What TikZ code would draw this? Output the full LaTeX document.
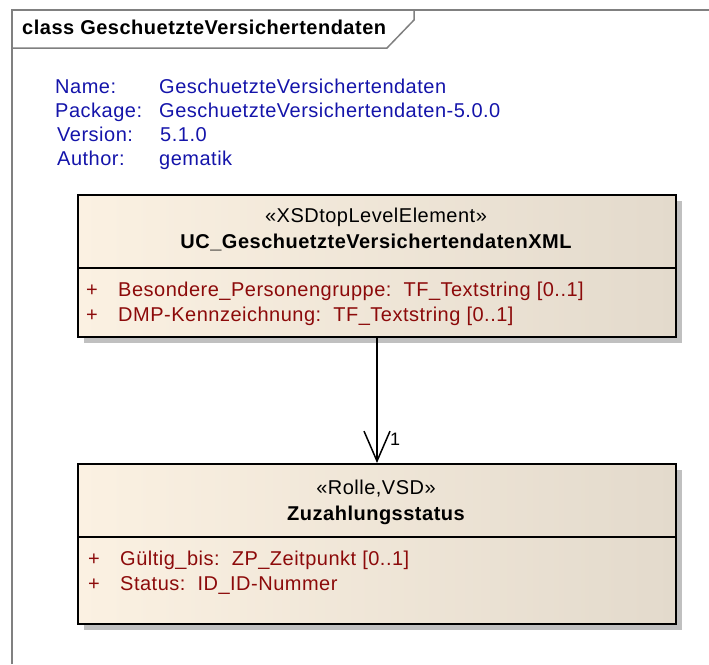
\documentclass[tikz,border=0pt]{standalone}
\usepackage{fontspec}
\setmainfont{Liberation Sans}[LetterSpace=2.5]
\usetikzlibrary{arrows.meta,shadows}
\definecolor{framegray}{RGB}{128,128,128}
\definecolor{metablue}{RGB}{20,20,170}
\definecolor{attrred}{RGB}{140,10,10}
\definecolor{boxleft}{RGB}{251,241,226}
\definecolor{boxright}{RGB}{227,218,204}
\definecolor{shadowgray}{RGB}{192,192,192}
\begin{document}
\begin{tikzpicture}[x=1pt,y=-1pt,
  frameline/.style={draw=framegray,line width=1.5pt},
  classbox/.style={rectangle,draw=black,line width=2pt,left color=boxleft,right color=boxright,inner sep=0pt,anchor=north west,
    drop shadow={shadow xshift=6pt,shadow yshift=-6pt,fill=shadowgray,opacity=1}},
  sepline/.style={draw=black,line width=2pt},
  txt/.style={inner sep=0pt,font=\fontsize{20}{24}\selectfont},
  meta/.style={txt,text=metablue,anchor=base west},
  stereo/.style={txt,text=black,anchor=base},
  cname/.style={txt,text=black,anchor=base,font=\fontsize{20}{24}\selectfont\bfseries},
  attr/.style={txt,text=attrred,anchor=base west},
  assoc/.style={draw=black,line width=1.5pt,-{Straight Barb[length=30pt,width=26pt]}},
]
\useasboundingbox (0,0) rectangle (709,664);
% frame
\draw[frameline] (12,664) -- (12,10) -- (709,10);
\draw[frameline] (12,48) -- (387,48) -- (414,20) -- (414,10);
\node[txt,font=\fontsize{20}{24}\selectfont\bfseries,anchor=base west] (title) at (22,34.5) {class GeschuetzteVersichertendaten};
% metadata
\node[meta] (lname) at (55,93) {Name:};
\node[meta] (lpkg) at (55,117) {Package:};
\node[meta] (lver) at (57,141) {Version:};
\node[meta] (laut) at (57,165) {Author:};
\node[meta] (vname) at (159,93) {GeschuetzteVersichertendaten};
\node[meta] (vpkg) at (159,117) {GeschuetzteVersichertendaten-5.0.0};
\node[meta] (vver) at (160,141) {5.1.0};
\node[meta] (vaut) at (159,165) {gematik};
% class 1
\node[classbox,minimum width=598pt,minimum height=142pt] (uc) at (77,194) {};
\coordinate (s1) at (0,268);
\draw[sepline] (uc.west |- s1) -- (uc.east |- s1);
\node[stereo] (ucst) at (376,222) {«XSDtopLevelElement»};
\node[cname] (ucnm) at (376,248) {UC\_GeschuetzteVersichertendatenXML};
\node[attr] (uca1p) at (86,296) {+};
\node[attr] (uca1) at (118,296) {Besondere\_Personengruppe:\ \ TF\_Textstring [0..1]};
\node[attr] (uca2p) at (86,321) {+};
\node[attr] (uca2) at (118,321) {DMP-Kennzeichnung:\ \ TF\_Textstring [0..1]};
% class 2
\node[classbox,minimum width=598pt,minimum height=160pt] (zz) at (77,463) {};
\coordinate (s2) at (0,537);
\draw[sepline] (zz.west |- s2) -- (zz.east |- s2);
\node[stereo] (zzst) at (376,494) {«Rolle,VSD»};
\node[cname] (zznm) at (376,520) {Zuzahlungsstatus};
\node[attr] (zza1p) at (88,565) {+};
\node[attr] (zza1) at (120,565) {Gültig\_bis:\ \ ZP\_Zeitpunkt [0..1]};
\node[attr] (zza2p) at (88,590) {+};
\node[attr] (zza2) at (120,590) {Status:\ \ ID\_ID-Nummer};
% association
\draw[assoc] (uc.south) -- (zz.north);
\node[txt,font=\fontsize{18}{20}\selectfont,anchor=base west] (mult) at (390,445) {1};
\end{tikzpicture}
\end{document}
